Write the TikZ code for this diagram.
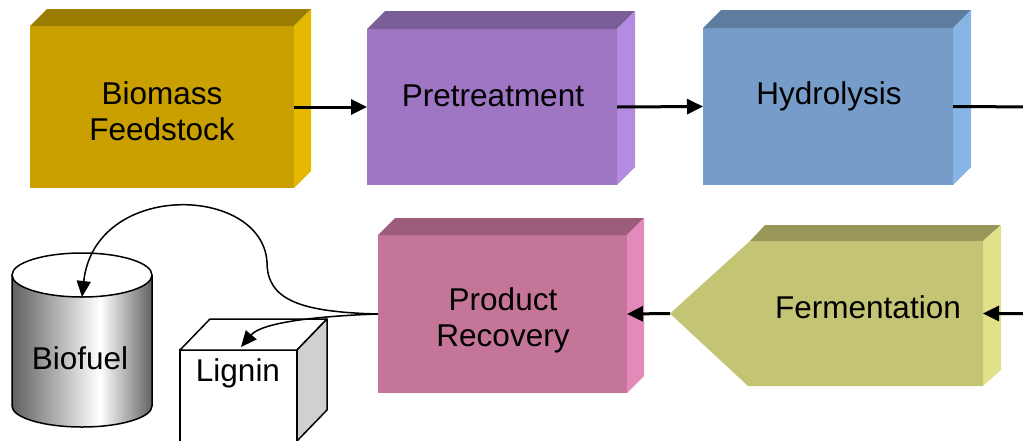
\documentclass[tikz,border=0pt]{standalone}
\usepackage{fontspec}
\setmainfont{Liberation Sans}
\usetikzlibrary{arrows.meta,calc}
\definecolor{bioF}{RGB}{201,160,0}
\definecolor{bioT}{RGB}{154,125,0}
\definecolor{bioS}{RGB}{228,184,0}
\definecolor{preF}{RGB}{158,118,196}
\definecolor{preT}{RGB}{122,94,152}
\definecolor{preS}{RGB}{180,138,226}
\definecolor{hydF}{RGB}{118,157,201}
\definecolor{hydT}{RGB}{94,125,158}
\definecolor{hydS}{RGB}{134,180,228}
\definecolor{prodF}{RGB}{196,117,152}
\definecolor{prodT}{RGB}{156,92,122}
\definecolor{prodS}{RGB}{226,138,186}
\definecolor{fermF}{RGB}{195,196,116}
\definecolor{fermT}{RGB}{152,151,89}
\definecolor{fermS}{RGB}{226,224,138}
\definecolor{cylgray}{RGB}{95,95,95}
\definecolor{cubeside}{RGB}{208,208,208}
\newcommand{\threedfaces}[4]{%
  \fill[#2] (#1.north west) -- ++(#4,-#4) -- ($(#1.north east)+(#4,-#4)$) -- (#1.north east) -- cycle;
  \fill[#3] (#1.north east) -- ++(#4,-#4) -- ($(#1.south east)+(#4,-#4)$) -- (#1.south east) -- cycle;
}
\begin{document}
\begin{tikzpicture}[x=1pt,y=-1pt,
  face/.style={rectangle,inner sep=0pt,outer sep=0pt,draw=none},
  lbl/.style={font=\fontsize{31.5}{36}\selectfont,align=center,inner sep=0pt},
  mainarrow/.style={line width=3pt,-{Triangle[length=16pt,width=15pt]}},
  curvearrow/.style={line width=1.5pt,-{Triangle[length=16pt,width=14pt]}}]
\useasboundingbox (0,0) rectangle (1023,440);
\clip (0,0) rectangle (1023,440);
% top row
\node[face,fill=bioF,minimum width=264pt,minimum height=162pt] (bio) at (162,107) {};
\threedfaces{bio}{bioT}{bioS}{17}
\node[lbl] (biot) at (162,111) {Biomass\\Feedstock};
\node[face,fill=preF,minimum width=250pt,minimum height=156pt] (pre) at (492,107) {};
\threedfaces{pre}{preT}{preS}{18}
\node[lbl] (pret) at (493,96) {Pretreatment};
\node[face,fill=hydF,minimum width=250pt,minimum height=157pt] (hyd) at (828,106.5) {};
\threedfaces{hyd}{hydT}{hydS}{18}
\node[lbl] (hydt) at (829,96) {Hydrolysis};
% product recovery
\node[face,fill=prodF,minimum width=249pt,minimum height=158pt] (prod) at (502.5,314) {};
\threedfaces{prod}{prodT}{prodS}{17}
\node[lbl] (prodt) at (503,320) {Product\\Recovery};
% fermentation
\node[face,minimum width=313pt,minimum height=145pt] (ferm) at (826.5,313.5) {};
\fill[fermT] (750,241) -- (765,225) -- (1001,225) -- (ferm.north east) -- cycle;
\fill[fermS] (ferm.north east) -- (1001,225) -- (1001,370) -- (ferm.south east) -- cycle;
\fill[fermF] (ferm.west) -- (750,241) -- (ferm.north east) -- (ferm.south east) -- (748,386) -- cycle;
\node[lbl] (fermt) at (868,307) {Fermentation};
% biofuel cylinder
\begin{scope}
\clip (12,275) -- (12,406) arc[start angle=180,end angle=360,x radius=70pt,y radius=21pt] -- (152,275) -- cycle;
\shade[left color=cylgray,right color=white] (11,250) rectangle (100,430);
\shade[left color=white,right color=cylgray] (100,250) rectangle (153,430);
\end{scope}
\draw[line width=1.5pt] (12,275) -- (12,406) arc[start angle=180,end angle=360,x radius=70pt,y radius=21pt] -- (152,275);
\draw[line width=1.5pt,fill=white] (82,275) ellipse[x radius=70pt,y radius=22pt];
\coordinate (fueltop) at (82,297);
\node[lbl] (fuel) at (80,358) {Biofuel};
% lignin cube
\node[face,draw=black,line width=1.5pt,fill=white,minimum width=117pt,minimum height=95pt] (lig) at (238.5,397.5) {};
\draw[line width=1.5pt,fill=white,line join=round] (lig.north west) -- (210,319) -- (327,319) -- (lig.north east) -- cycle;
\draw[line width=1.5pt,fill=cubeside,line join=round] (lig.north east) -- (327,319) -- (327,410) -- (297,441) -- cycle;
\coordinate (ligtop) at (241,347);
\node[lbl] (ligt) at (238,373) {Lignin};
% connectors
\draw[mainarrow] (bio.east) -- (pre.west);
\draw[mainarrow] (pre.east) -- (hyd.west);
\coordinate (offA) at (1040,107);
\draw[mainarrow] (hyd.east) -- (offA) |- (ferm.east);
\draw[mainarrow] (ferm.west) -- (prod.east);
\draw[curvearrow] (prod.west) .. controls (300,312) and (267,300) .. (267,262) .. controls (262,185) and (95,180) .. (fueltop);
\draw[curvearrow] (prod.west) .. controls (320,316) and (262,322) .. (ligtop);
\end{tikzpicture}
\end{document}
